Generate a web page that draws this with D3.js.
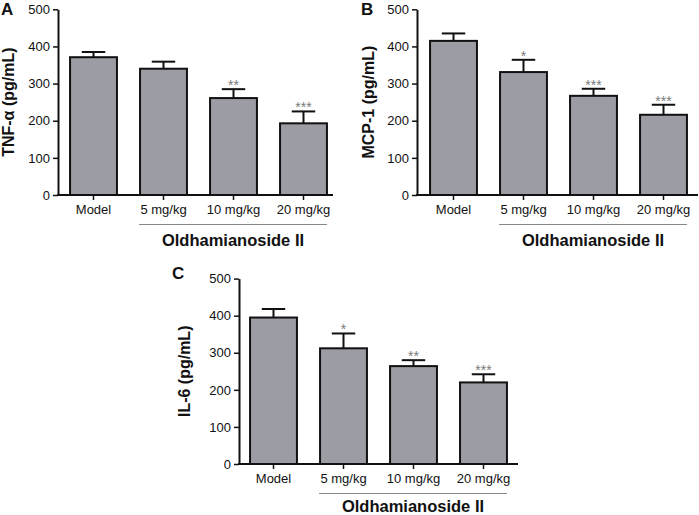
<!DOCTYPE html>
<html>
<head>
<meta charset="utf-8">
<script src="https://cdn.jsdelivr.net/npm/d3@7"></script>
<style>
  body { margin: 0; background: #fff; }
  svg { display: block; font-family: "Liberation Sans", Arial, sans-serif; }
</style>
</head>
<body>
<svg id="chart" width="699" height="515"></svg>
<script>
// ---- data ----
const categories = ["Model", "5 mg/kg", "10 mg/kg", "20 mg/kg"];
const yTicks = [0, 100, 200, 300, 400, 500];
const groupLabel = "Oldhamianoside II";

const tnfMean = [371, 340, 261, 193];
const tnfSD   = [14, 19, 24, 32];
const tnfSig  = ["", "", "**", "***"];

const mcpMean = [415, 331, 267, 216];
const mcpSD   = [20, 33, 19, 27];
const mcpSig  = ["", "*", "***", "***"];

const il6Mean = [395, 312, 264, 220];
const il6SD   = [23, 40, 16, 22];
const il6Sig  = ["", "*", "**", "***"];

// ---- layout ----
const panels = [
  { letter: "A", title: "TNF-\u03b1 (pg/mL)", mean: tnfMean, sd: tnfSD, sig: tnfSig,
    axisX: 58, bandX: 58.5, xEnd: 333, y0: 195, yTop: 9.3, titleX: 14, letterX: 1, letterY: 15, labelDy: 50.5 },
  { letter: "B", title: "MCP-1 (pg/mL)", mean: mcpMean, sd: mcpSD, sig: mcpSig,
    axisX: 417, bandX: 418.5, xEnd: 698, y0: 195, yTop: 9.3, titleX: 374, letterX: 361, letterY: 15, labelDy: 50.5 },
  { letter: "C", title: "IL-6 (pg/mL)", mean: il6Mean, sd: il6SD, sig: il6Sig,
    axisX: 239, bandX: 238.5, xEnd: 518, y0: 464, yTop: 278.6, titleX: 190, letterX: 172, letterY: 279, labelDy: 48 }
];

const svg = d3.select("#chart");

panels.forEach(p => {
  const g = svg.append("g");
  const x = d3.scaleBand().domain(categories)
    .range([p.bandX, p.bandX + 280]).paddingInner(0.33).paddingOuter(0.165);
  const y = d3.scaleLinear().domain([0, 500]).range([p.y0, p.yTop]);
  const data = categories.map((c, i) => ({ c, m: p.mean[i], sd: p.sd[i], s: p.sig[i] }));

  // bars
  g.selectAll("rect.bar").data(data).enter().append("rect")
    .attr("x", d => x(d.c)).attr("width", x.bandwidth())
    .attr("y", d => y(d.m)).attr("height", d => y(0) - y(d.m))
    .attr("fill", "#9b9ca4").attr("stroke", "#111").attr("stroke-width", 2);

  // error bars
  const cap = x.bandwidth() / 2;
  g.selectAll("line.err").data(data).enter().append("line")
    .attr("x1", d => x(d.c) + x.bandwidth() / 2).attr("x2", d => x(d.c) + x.bandwidth() / 2)
    .attr("y1", d => y(d.m)).attr("y2", d => y(d.m + d.sd))
    .attr("stroke", "#111").attr("stroke-width", 2);
  g.selectAll("line.cap").data(data).enter().append("line")
    .attr("x1", d => x(d.c) + x.bandwidth() / 2 - cap / 2)
    .attr("x2", d => x(d.c) + x.bandwidth() / 2 + cap / 2)
    .attr("y1", d => y(d.m + d.sd)).attr("y2", d => y(d.m + d.sd))
    .attr("stroke", "#111").attr("stroke-width", 2);

  // significance stars
  g.selectAll("text.sig").data(data).enter().append("text")
    .attr("x", d => x(d.c) + x.bandwidth() / 2)
    .attr("y", d => y(d.m + d.sd) + 1)
    .attr("text-anchor", "middle").attr("font-size", 14).attr("fill", "#7a7a7a")
    .text(d => d.s);

  // y axis
  const yAxis = d3.axisLeft(y).tickValues(yTicks).tickSize(5).tickPadding(3).tickSizeOuter(0);
  const ya = g.append("g").attr("transform", `translate(${p.axisX},0)`).call(yAxis);
  ya.select(".domain").attr("stroke", "#111").attr("stroke-width", 2);
  ya.selectAll(".tick line").attr("stroke", "#111").attr("stroke-width", 1.5);
  ya.selectAll(".tick text").attr("font-size", 13).attr("fill", "#111")
    .attr("font-family", "Liberation Sans, Arial, sans-serif");

  // x axis
  const xAxis = d3.axisBottom(x).tickSize(5).tickSizeOuter(0).tickPadding(5);
  const xa = g.append("g").attr("transform", `translate(0,${p.y0})`).call(xAxis);
  xa.select(".domain").remove();
  xa.append("line").attr("x1", p.axisX - 1).attr("x2", p.xEnd).attr("y1", 0).attr("y2", 0)
    .attr("stroke", "#111").attr("stroke-width", 2);
  xa.selectAll(".tick line").attr("stroke", "#111").attr("stroke-width", 1.5);
  xa.selectAll(".tick text").attr("font-size", 13).attr("fill", "#111")
    .attr("font-family", "Liberation Sans, Arial, sans-serif");

  // group underline and label
  const gx1 = x(categories[1]) - 1;
  const gx2 = x(categories[categories.length - 1]) + x.bandwidth();
  g.append("line").attr("x1", gx1).attr("x2", gx2)
    .attr("y1", p.y0 + 29.5).attr("y2", p.y0 + 29.5)
    .attr("stroke", "#888").attr("stroke-width", 1.2);
  g.append("text").attr("x", (gx1 + gx2) / 2).attr("y", p.y0 + p.labelDy)
    .attr("text-anchor", "middle").attr("font-weight", "bold").attr("font-size", 16.5)
    .attr("fill", "#111").text(groupLabel);

  // y title
  g.append("text")
    .attr("transform", `translate(${p.titleX},${(p.y0 + p.yTop) / 2}) rotate(-90)`)
    .attr("text-anchor", "middle").attr("font-weight", "bold").attr("font-size", 16)
    .attr("fill", "#111").text(p.title);

  // panel letter
  g.append("text").attr("x", p.letterX).attr("y", p.letterY)
    .attr("font-weight", "bold").attr("font-size", 17).attr("fill", "#111").text(p.letter);
});
</script>
</body>
</html>
